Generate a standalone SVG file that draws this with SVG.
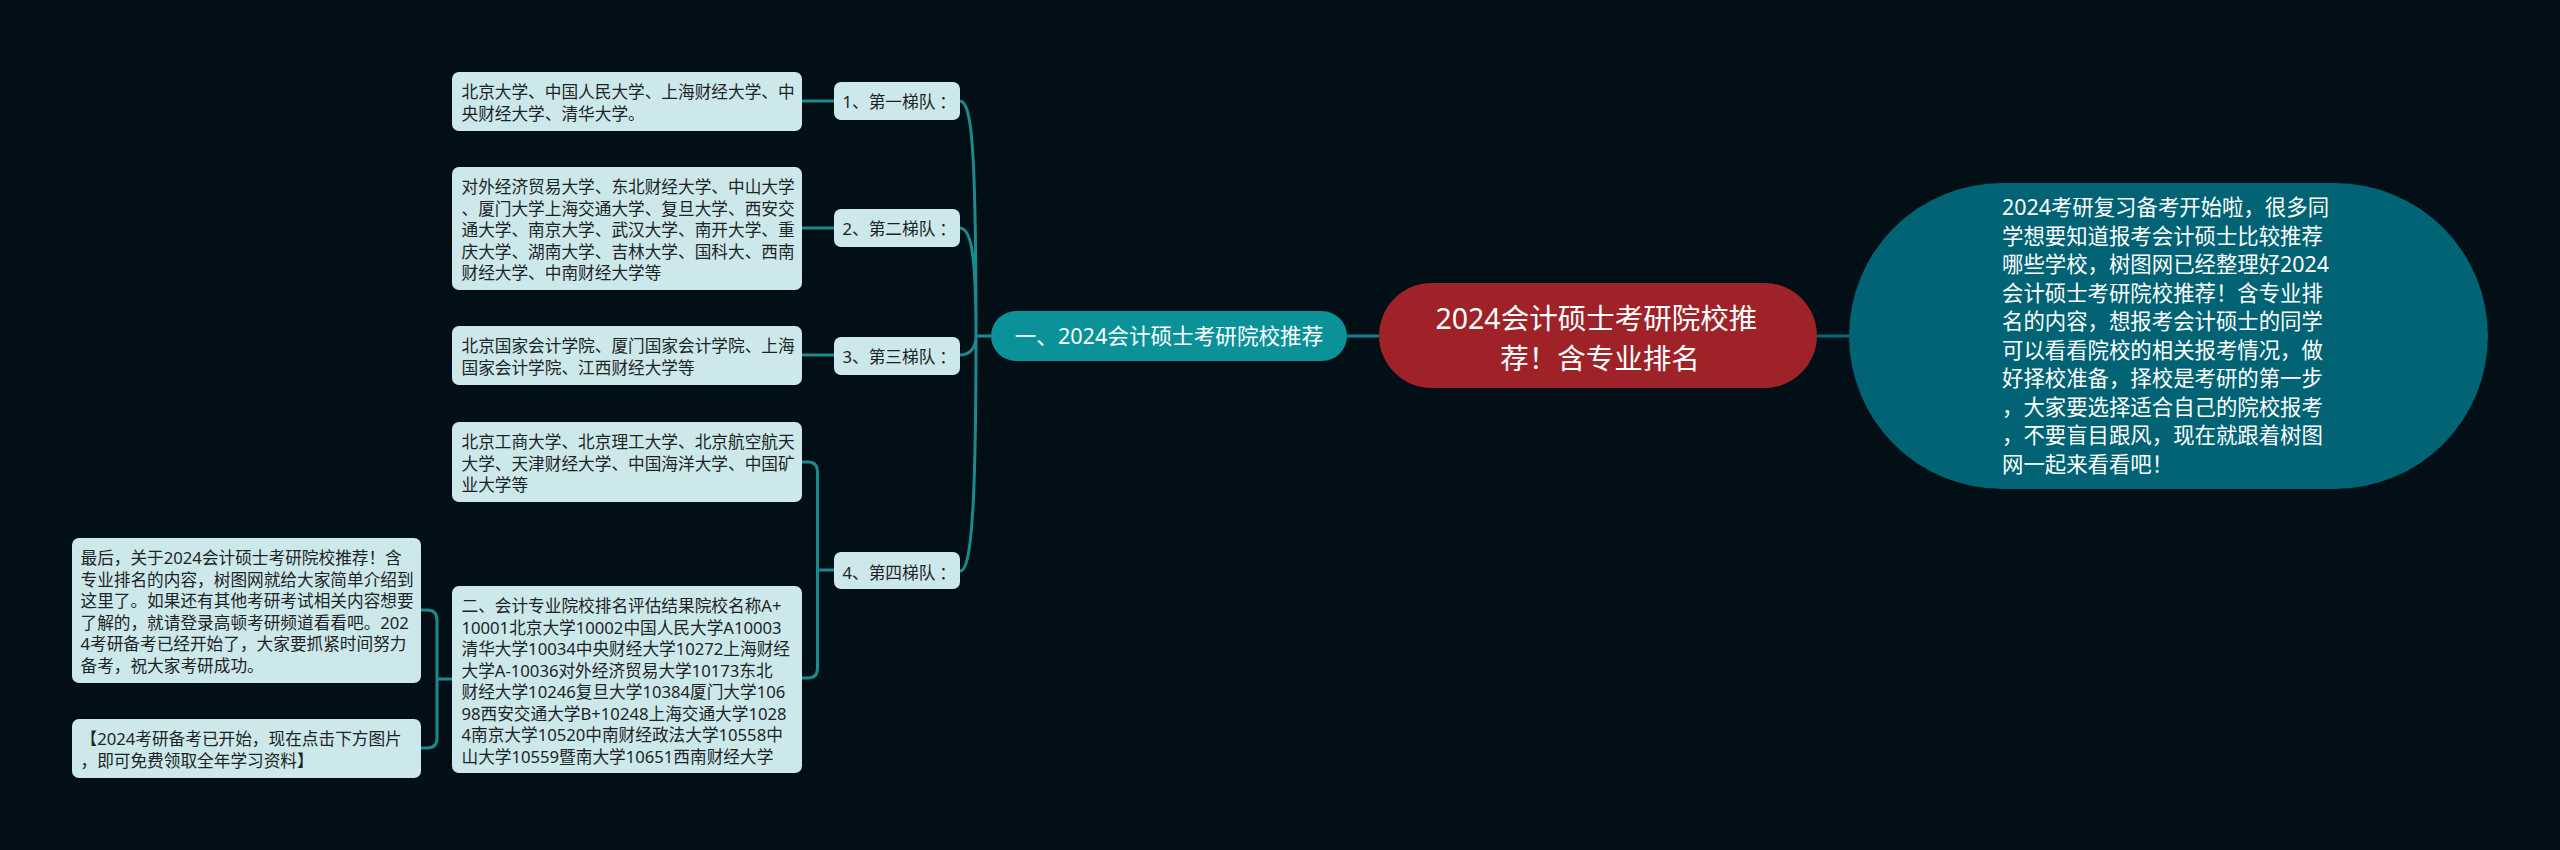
<svg xmlns="http://www.w3.org/2000/svg" width="2560" height="850" viewBox="0 0 2560 850">
<style>
text{font-family:"Noto Sans","Noto Sans CJK SC",sans-serif}
.l rect{fill:#cde8ea}
.l text{font-size:16.67px;fill:#1c2426}
.c path{fill:none;stroke:#1a8a8e;stroke-width:3}
.w{fill:#fff}
</style>
<rect width="2560" height="850" fill="#020f17"/>
<g id="connectors" class="c">
<path d="M991 336H976M960 101C972 101 976 150 976 336M960 228C972 228 976 260 976 336M960 355C972 355 976 345 976 336M960 571C972 571 976 500 976 336"/>
<path d="M802 101H834M802 228H834M802 355H834"/>
<path d="M802 462H808Q817.5 462 817.5 472V668Q817.5 678 808 678H802M817.5 570H834"/>
<path d="M421 610H427Q437 610 437 620V738Q437 748 427 748H421M437 679H452"/>
<path d="M1347 336H1379" style="stroke:#17808f"/>
<path d="M1817 336H1849" style="stroke:#066a7c"/>
</g>
<g id="desc"><rect x="1849" y="183" width="639" height="306" rx="153" fill="#016374"/>
<text class="w" font-size="21.4">
<tspan x="2002" y="215">2024考研复习备考开始啦，很多同</tspan>
<tspan x="2002" y="243.500">学想要知道报考会计硕士比较推荐</tspan>
<tspan x="2002" y="272">哪些学校，树图网已经整理好2024</tspan>
<tspan x="2002" y="300.500">会计硕士考研院校推荐！含专业排</tspan>
<tspan x="2002" y="329">名的内容，想报考会计硕士的同学</tspan>
<tspan x="2002" y="357.500">可以看看院校的相关报考情况，做</tspan>
<tspan x="2002" y="386">好择校准备，择校是考研的第一步</tspan>
<tspan x="2002" y="414.500">，大家要选择适合自己的院校报考</tspan>
<tspan x="2002" y="443">，不要盲目跟风，现在就跟着树图</tspan>
<tspan x="2002" y="471.500">网一起来看看吧！</tspan>
</text></g>
<g id="root"><rect x="1379" y="283" width="438" height="105" rx="52.500" fill="#9e2227"/>
<text class="w" font-size="28.500" text-anchor="middle">
<tspan x="1600" y="329">2024会计硕士考研院校推</tspan>
<tspan x="1600" y="369">荐！含专业排名</tspan>
</text></g>
<g id="branch"><rect x="991" y="311" width="356" height="50" rx="25" fill="#0a9298"/>
<text class="w" font-size="21.600" x="1169" y="344" text-anchor="middle">一、2024会计硕士考研院校推荐</text></g>
<g id="tier1" class="l"><rect x="834" y="82" width="126" height="38" rx="7"/><text x="842.500" y="108">1、第一梯队<tspan dx="4">：</tspan></text></g>
<g id="tier2" class="l"><rect x="834" y="209" width="126" height="38" rx="7"/><text x="842.500" y="235">2、第二梯队<tspan dx="4">：</tspan></text></g>
<g id="tier3" class="l"><rect x="834" y="337" width="126" height="38" rx="7"/><text x="842.500" y="363">3、第三梯队<tspan dx="4">：</tspan></text></g>
<g id="tier4" class="l"><rect x="834" y="552" width="126" height="37" rx="7"/><text x="842.500" y="579">4、第四梯队<tspan dx="4">：</tspan></text></g>
<g id="leaf1" class="l"><rect x="452" y="72" width="350" height="59" rx="7"/>
<text><tspan x="461.500" y="98">北京大学、中国人民大学、上海财经大学、中</tspan><tspan x="461.500" y="119.500">央财经大学、清华大学。</tspan></text></g>
<g id="leaf2" class="l"><rect x="452" y="167" width="350" height="123" rx="7"/>
<text><tspan x="461.500" y="193">对外经济贸易大学、东北财经大学、中山大学</tspan><tspan x="461.500" y="214.500">、厦门大学上海交通大学、复旦大学、西安交</tspan><tspan x="461.500" y="236">通大学、南京大学、武汉大学、南开大学、重</tspan><tspan x="461.500" y="257.500">庆大学、湖南大学、吉林大学、国科大、西南</tspan><tspan x="461.500" y="279">财经大学、中南财经大学等</tspan></text></g>
<g id="leaf3" class="l"><rect x="452" y="326" width="350" height="59" rx="7"/>
<text><tspan x="461.500" y="352">北京国家会计学院、厦门国家会计学院、上海</tspan><tspan x="461.500" y="373.500">国家会计学院、江西财经大学等</tspan></text></g>
<g id="leaf4" class="l"><rect x="452" y="422" width="350" height="80" rx="7"/>
<text><tspan x="461.500" y="448">北京工商大学、北京理工大学、北京航空航天</tspan><tspan x="461.500" y="469.500">大学、天津财经大学、中国海洋大学、中国矿</tspan><tspan x="461.500" y="491">业大学等</tspan></text></g>
<g id="leaf5" class="l"><rect x="452" y="586" width="350" height="187" rx="7"/>
<text><tspan x="461.500" y="612">二、会计专业院校排名评估结果院校名称A+</tspan><tspan x="461.500" y="633.500">10001北京大学10002中国人民大学A10003</tspan><tspan x="461.500" y="655">清华大学10034中央财经大学10272上海财经</tspan><tspan x="461.500" y="676.500">大学A-10036对外经济贸易大学10173东北</tspan><tspan x="461.500" y="698">财经大学10246复旦大学10384厦门大学106</tspan><tspan x="461.500" y="719.500">98西安交通大学B+10248上海交通大学1028</tspan><tspan x="461.500" y="741">4南京大学10520中南财经政法大学10558中</tspan><tspan x="461.500" y="762.500">山大学10559暨南大学10651西南财经大学</tspan></text></g>
<g id="leaf6" class="l"><rect x="72" y="538" width="349" height="145" rx="7"/>
<text><tspan x="80.500" y="564">最后，关于2024会计硕士考研院校推荐！含</tspan><tspan x="80.500" y="585.500">专业排名的内容，树图网就给大家简单介绍到</tspan><tspan x="80.500" y="607">这里了。如果还有其他考研考试相关内容想要</tspan><tspan x="80.500" y="628.500">了解的，就请登录高顿考研频道看看吧。202</tspan><tspan x="80.500" y="650">4考研备考已经开始了，大家要抓紧时间努力</tspan><tspan x="80.500" y="671.500">备考，祝大家考研成功。</tspan></text></g>
<g id="leaf7" class="l"><rect x="72" y="719" width="349" height="59" rx="7"/>
<text><tspan x="80.500" y="745">【2024考研备考已开始，现在点击下方图片</tspan><tspan x="80.500" y="766.500">，即可免费领取全年学习资料】</tspan></text></g>
</svg>
